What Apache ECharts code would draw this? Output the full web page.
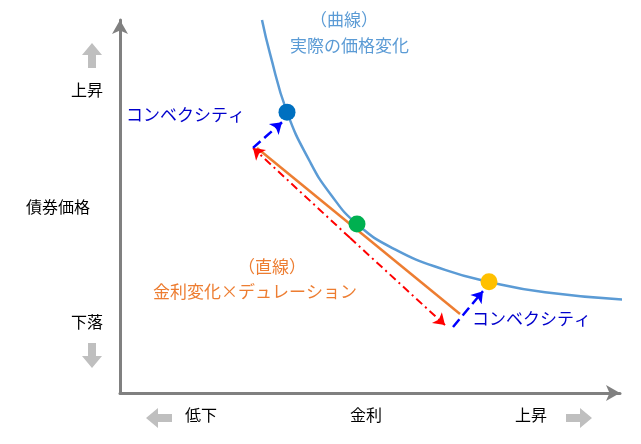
<!DOCTYPE html><html><head><meta charset="utf-8"><script src="https://cdn.jsdelivr.net/npm/echarts@6/dist/echarts.min.js"></script>
<style>html,body{margin:0;background:#fff}#c{width:641px;height:444px}</style></head><body><div id="c"></div><script>
const curve=[[28.4,100],[30,91],[33.4,75.3],[38,62],[42,53.5],[47.4,45.3],[55,38.5],[65,33],[73.8,29.8],[85,27],[101,25]];
const tangent=[[27.4,65.7],[68,21.2]];
const dots=[[33.4,75.3,'#0070c0'],[47.4,45.3,'#00b050'],[73.8,29.8,'#ffc000']];
const redArrows=[[[46,41.6],[26.6,65.7]],[[46,41.6],[65,18.2]]];
const blueArrows=[[[26.6,65.7],[32.4,72.6]],[[66.6,17.7],[72.6,27.3]]];
const F='"Noto Sans CJK JP",sans-serif';
const ch=echarts.init(document.getElementById('c'));
function t(x,y,s,c,size){return {type:'text',left:x,top:y,style:{text:s,fill:c,font:(size||16)+'px '+F}};}
function poly(pts){return {type:'polygon',shape:{points:pts},style:{fill:'#bfbfbf'}};}
ch.setOption({animation:false,
grid:{left:120,right:21,top:20,bottom:51},
xAxis:{type:'value',min:0,max:100,axisLine:{lineStyle:{color:'#808080',width:3},symbol:['none','arrow'],symbolSize:[12,14]},axisTick:{show:false},axisLabel:{show:false},splitLine:{show:false}},
yAxis:{type:'value',min:0,max:100,axisLine:{show:true,lineStyle:{color:'#808080',width:3},symbol:['none','arrow'],symbolSize:[12,14]},axisTick:{show:false},axisLabel:{show:false},splitLine:{show:false}},
series:[
{type:'line',data:curve,smooth:true,symbol:'none',lineStyle:{color:'#5b9bd5',width:2.5},z:2},
{type:'line',data:tangent,symbol:'none',lineStyle:{color:'#ed7d31',width:2.5},z:2},
{type:'lines',coordinateSystem:'cartesian2d',data:redArrows.map(c=>({coords:c})),symbol:['none','arrow'],symbolSize:11,lineStyle:{color:'#ff0000',width:2,type:[8,4,2,4],opacity:1},z:3},
{type:'lines',coordinateSystem:'cartesian2d',data:blueArrows.map(c=>({coords:c})),symbol:['none','arrow'],symbolSize:11,lineStyle:{color:'#0000ff',width:2.5,type:'dashed',opacity:1},z:3},
{type:'scatter',data:dots.map(d=>({value:[d[0],d[1]],itemStyle:{color:d[2],opacity:1}})),symbolSize:17,z:5}
]});
ch.setOption({graphic:[
t(310,11,'（曲線）','#5b9bd5',17),t(290,37,'実際の価格変化','#5b9bd5',17),
t(126,106,'コンベクシティ','#0000cc',17),t(472,310,'コンベクシティ','#0000cc',17),
t(238,258,'（直線）','#ed7d31',17),t(153,283,'金利変化×デュレーション','#ed7d31',17),
t(71,82,'上昇','#000',16),t(26,199,'債券価格','#000',16),t(71,314,'下落','#000',16),
t(185,407,'低下','#000',16),t(350,407,'金利','#000',16),t(515,407,'上昇','#000',16),
poly([[92,43],[82,55],[88,55],[88,68],[96,68],[96,55],[102,55]]),
poly([[92,368],[82,356],[88,356],[88,343],[96,343],[96,356],[102,356]]),
poly([[146,418],[158,408],[158,414],[172,414],[172,422],[158,422],[158,428]]),
poly([[592,418],[580,408],[580,414],[566,414],[566,422],[580,422],[580,428]])
]});
</script></body></html>
